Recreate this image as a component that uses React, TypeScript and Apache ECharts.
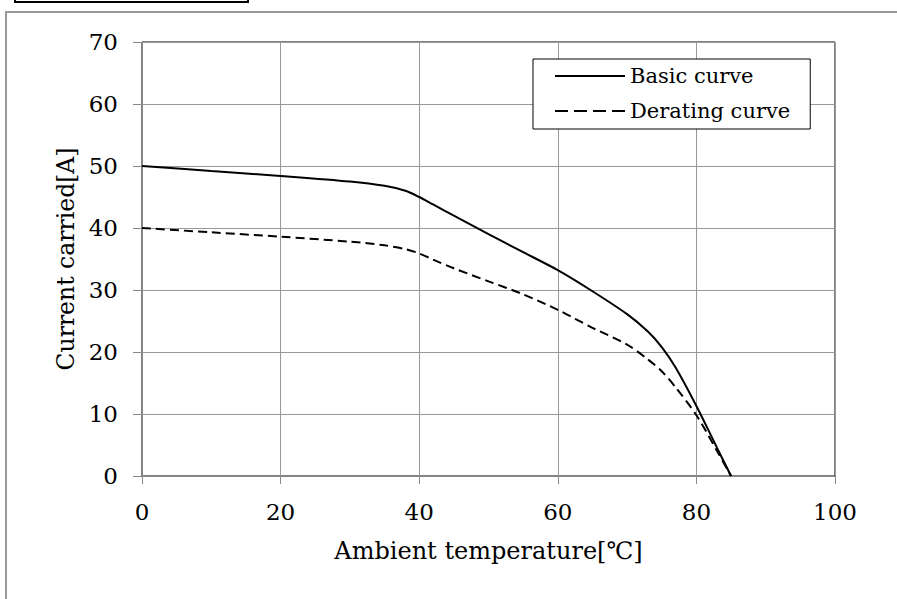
import React, { useEffect, useRef } from "react";
import * as echarts from "echarts";

const temperature = [0, 10, 20, 30, 35, 38, 40, 42, 45, 50, 55, 60, 65, 70, 73, 75, 77, 80, 83, 85];
const basicCurve = [50, 49.2, 48.4, 47.5, 46.8, 46.0, 45.0, 43.8, 42.0, 39.0, 36.1, 33.2, 29.8, 26.1, 23.3, 20.8, 17.5, 11.3, 4.5, 0];
const deratingCurve = [40, 39.3, 38.6, 37.8, 37.2, 36.6, 35.9, 34.9, 33.5, 31.4, 29.3, 26.8, 23.9, 21.2, 18.8, 16.9, 14.3, 9.8, 4.0, 0];
const seriesNames = ["Basic curve", "Derating curve"];
const xTitle = "Ambient temperature[℃]";
const yTitle = "Current carried[A]";

const FONT = "DejaVu Serif";
const SOLID_ICON = "path://M0,0h70v2h-70z";
const DASH_ICON = "path://M0,0h13v2h-13zM19,0h13v2h-13zM38,0h13v2h-13zM57,0h13v2h-13z";

export default function App() {
  const ref = useRef<HTMLDivElement>(null);
  useEffect(() => {
    if (!ref.current) return;
    const chart = echarts.init(ref.current, null, { renderer: "svg" });
    const pair = (ys: number[]) => temperature.map((t, i) => [t, ys[i]]);
    chart.setOption({
      animation: false,
      backgroundColor: "#fff",
      textStyle: { fontFamily: FONT, color: "#000" },
      grid: { left: 142, top: 42, right: 62, bottom: 123, show: true, borderColor: "#000", borderWidth: 1, backgroundColor: "transparent" },
      xAxis: {
        type: "value",
        min: 0,
        max: 100,
        interval: 20,
        name: xTitle,
        nameLocation: "middle",
        nameGap: 63,
        nameTextStyle: { fontFamily: FONT, fontSize: 24, color: "#000" },
        axisLine: { show: true, lineStyle: { color: "#888", width: 1 } },
        axisTick: { show: true, inside: false, length: 8, lineStyle: { color: "#888" } },
        axisLabel: { margin: 24, fontFamily: FONT, fontSize: 23, color: "#000" },
        splitLine: { show: true, lineStyle: { color: "#999", width: 1 } },
      },
      yAxis: {
        type: "value",
        min: 0,
        max: 70,
        interval: 10,
        name: yTitle,
        nameLocation: "middle",
        nameGap: 64,
        nameTextStyle: { fontFamily: FONT, fontSize: 23.5, color: "#000" },
        axisLine: { show: true, lineStyle: { color: "#888", width: 1 } },
        axisTick: { show: true, inside: false, length: 9, lineStyle: { color: "#888" } },
        axisLabel: { margin: 24, fontFamily: FONT, fontSize: 23, color: "#000" },
        splitLine: { show: true, lineStyle: { color: "#999", width: 1 } },
      },
      legend: {
        orient: "vertical",
        left: 533,
        top: 59,
        padding: [5, 20, 6, 22],
        itemGap: 11,
        itemWidth: 70,
        itemHeight: 2,
        backgroundColor: "#fff",
        borderColor: "#000",
        borderWidth: 1,
        borderRadius: 0,
        textStyle: { fontFamily: FONT, fontSize: 21, color: "#000", lineHeight: 24 },
        data: [
          { name: seriesNames[0], icon: SOLID_ICON, itemStyle: { color: "#000" } },
          { name: seriesNames[1], icon: DASH_ICON, itemStyle: { color: "#000" } },
        ],
      },
      graphic: [
        { type: "rect", shape: { x: 6, y: 12, width: 1000, height: 1000 }, style: { fill: "none", stroke: "#999", lineWidth: 2 }, silent: true },
        { type: "rect", shape: { x: 15, y: -10, width: 233, height: 12 }, style: { fill: "none", stroke: "#000", lineWidth: 2 }, silent: true },
      ],
      series: [
        {
          name: seriesNames[0],
          type: "line",
          data: pair(basicCurve),
          smooth: 0.3,
          symbol: "none",
          lineStyle: { color: "#000", width: 2, type: "solid" },
          itemStyle: { color: "#000" },
        },
        {
          name: seriesNames[1],
          type: "line",
          data: pair(deratingCurve),
          smooth: 0.3,
          symbol: "none",
          lineStyle: { color: "#000", width: 2, type: [9, 5] },
          itemStyle: { color: "#000" },
        },
      ],
    });
    return () => chart.dispose();
  }, []);
  return <div ref={ref} style={{ position: "fixed", left: 0, top: 0, width: 897, height: 599 }} />;
}
